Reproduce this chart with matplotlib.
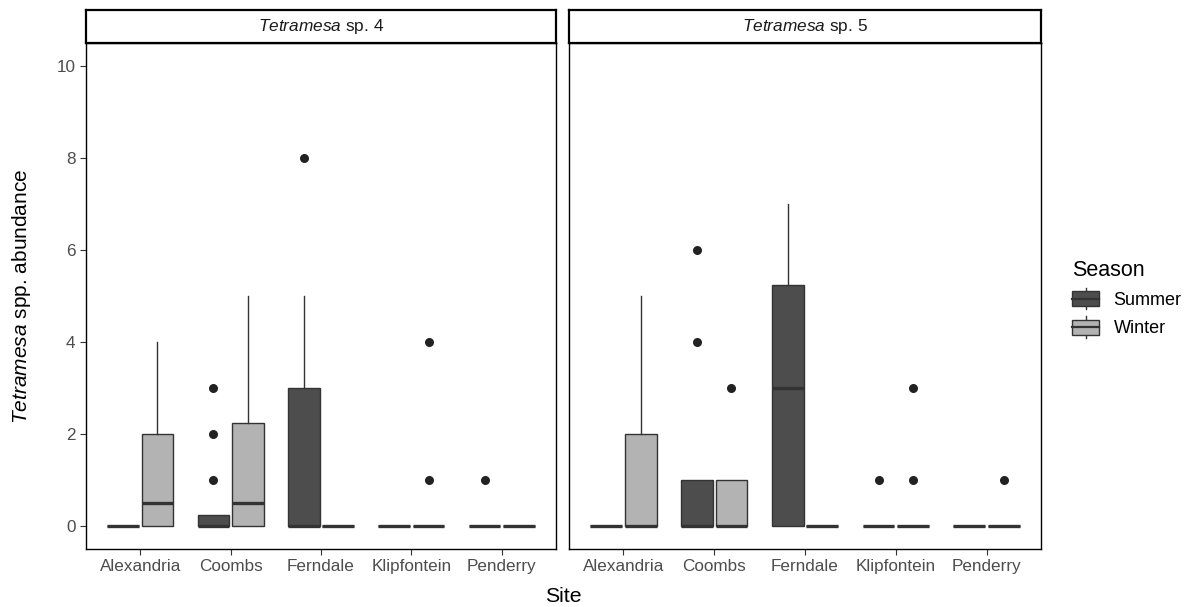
import matplotlib
matplotlib.use("Agg")
import matplotlib.pyplot as plt
from matplotlib.patches import Patch, Rectangle
from matplotlib.lines import Line2D
from matplotlib.legend_handler import HandlerBase

plt.rcParams['font.family'] = ['Liberation Sans', 'DejaVu Sans']
plt.rcParams['mathtext.fontset'] = 'custom'
plt.rcParams['mathtext.rm'] = 'Liberation Sans'
plt.rcParams['mathtext.it'] = 'Liberation Sans:italic'

sites = ['Alexandria', 'Coombs', 'Ferndale', 'Klipfontein', 'Penderry']
seasons = ['Summer', 'Winter']
species = ['Tetramesa sp. 4', 'Tetramesa sp. 5']

# boxplot summaries, one value per site
sp4_summer_q1 = [0, 0, 0, 0, 0]
sp4_summer_med = [0, 0, 0, 0, 0]
sp4_summer_q3 = [0, 0.25, 3, 0, 0]
sp4_summer_whishi = [0, 0.25, 5, 0, 0]
sp4_summer_fliers = [[], [1, 2, 3], [8], [], [1]]

sp4_winter_q1 = [0, 0, 0, 0, 0]
sp4_winter_med = [0.5, 0.5, 0, 0, 0]
sp4_winter_q3 = [2, 2.25, 0, 0, 0]
sp4_winter_whishi = [4, 5, 0, 0, 0]
sp4_winter_fliers = [[], [], [], [1, 4], []]

sp5_summer_q1 = [0, 0, 0, 0, 0]
sp5_summer_med = [0, 0, 3, 0, 0]
sp5_summer_q3 = [0, 1, 5.25, 0, 0]
sp5_summer_whishi = [0, 1, 7, 0, 0]
sp5_summer_fliers = [[], [4, 6], [], [1], []]

sp5_winter_q1 = [0, 0, 0, 0, 0]
sp5_winter_med = [0, 0, 0, 0, 0]
sp5_winter_q3 = [2, 1, 0, 0, 0]
sp5_winter_whishi = [5, 1, 0, 0, 0]
sp5_winter_fliers = [[], [3], [], [1, 3], [1]]

season_colors = {'Summer': '#4d4d4d', 'Winter': '#b3b3b3'}
line_col = '#333333'


def make_stats(q1, med, q3, whishi, fliers):
    out = []
    for i in range(len(q1)):
        out.append(dict(q1=q1[i], med=med[i], q3=q3[i], whislo=q1[i],
                        whishi=whishi[i], fliers=fliers[i]))
    return out


panels = [
    {'Summer': make_stats(sp4_summer_q1, sp4_summer_med, sp4_summer_q3, sp4_summer_whishi, sp4_summer_fliers),
     'Winter': make_stats(sp4_winter_q1, sp4_winter_med, sp4_winter_q3, sp4_winter_whishi, sp4_winter_fliers)},
    {'Summer': make_stats(sp5_summer_q1, sp5_summer_med, sp5_summer_q3, sp5_summer_whishi, sp5_summer_fliers),
     'Winter': make_stats(sp5_winter_q1, sp5_winter_med, sp5_winter_q3, sp5_winter_whishi, sp5_winter_fliers)},
]

W, H = 1188, 607
fig = plt.figure(figsize=(W / 100, H / 100), dpi=100)

panel_px = [(86, 556), (569, 1041)]
top_px, bot_px, strip_top = 43, 549, 10
offsets = {'Summer': -0.19, 'Winter': 0.19}

for k, (x0, x1) in enumerate(panel_px):
    ax = fig.add_axes([x0 / W, (H - bot_px) / H, (x1 - x0) / W, (bot_px - top_px) / H])
    for s in seasons:
        pos = [i + 1 + offsets[s] for i in range(len(sites))]
        ax.bxp(panels[k][s], positions=pos, widths=0.35, patch_artist=True,
               showcaps=False, manage_ticks=False,
               boxprops=dict(facecolor=season_colors[s], edgecolor=line_col, linewidth=1),
               medianprops=dict(color=line_col, linewidth=2.4, solid_capstyle='butt'),
               whiskerprops=dict(color=line_col, linewidth=1),
               flierprops=dict(marker='o', markerfacecolor='#222222',
                               markeredgecolor='none', markersize=6.5))
    ax.set_xlim(0.4, 5.6)
    ax.set_ylim(-0.5, 10.5)
    ax.set_xticks(range(1, len(sites) + 1))
    ax.set_xticklabels(sites)
    ax.set_yticks([0, 2, 4, 6, 8, 10])
    ax.tick_params(length=4, color=line_col, labelcolor='#4d4d4d', labelsize=12.3, width=0.8)
    if k > 0:
        ax.tick_params(axis='y', left=False, labelleft=False)
    for sp in ax.spines.values():
        sp.set_color('black')
        sp.set_linewidth(1)

    # facet strip
    sax = fig.add_axes([x0 / W, (H - top_px) / H, (x1 - x0) / W, (top_px - strip_top) / H])
    sax.set_xticks([])
    sax.set_yticks([])
    for sp in sax.spines.values():
        sp.set_linewidth(1.6)
        sp.set_color('black')
    genus, rest = species[k].split(' ', 1)
    sax.text(0.5, 0.5, r'$\it{' + genus + '}$ ' + rest, ha='center', va='center',
             fontsize=12.4, color='#1a1a1a', transform=sax.transAxes)

fig.text((panel_px[0][0] + panel_px[1][1]) / 2 / W, 1 - 597 / H, 'Site',
         ha='center', va='center', fontsize=15.3)
fig.text(22 / W, 1 - 296 / H, r'$\it{Tetramesa}$ spp. abundance', rotation=90,
         ha='center', va='center', fontsize=15)


class BoxKey(HandlerBase):
    def create_artists(self, legend, orig_handle, xdescent, ydescent,
                       width, height, fontsize, trans):
        x0, y0 = -xdescent, -ydescent
        fc = orig_handle.get_facecolor()
        lo, hi = y0 + height * 0.15, y0 + height * 0.85
        box = Rectangle((x0, lo), width, hi - lo, facecolor=fc, edgecolor=line_col,
                        linewidth=1, transform=trans)
        med = Line2D([x0, x0 + width], [y0 + height / 2] * 2, color=line_col,
                     linewidth=1.6, transform=trans)
        w1 = Line2D([x0 + width / 2] * 2, [y0, lo], color=line_col, linewidth=1, transform=trans)
        w2 = Line2D([x0 + width / 2] * 2, [hi, y0 + height], color=line_col, linewidth=1, transform=trans)
        return [w1, w2, box, med]


handles = [Patch(facecolor=season_colors[s]) for s in seasons]
leg = fig.legend(handles, seasons, handler_map={Patch: BoxKey()},
                 loc='center left', bbox_to_anchor=(1072 / W, 1 - 299 / H),
                 frameon=False, title='Season', title_fontsize=15.5, fontsize=13,
                 handlelength=1.5, handleheight=1.45, labelspacing=0.38,
                 handletextpad=0.8, borderpad=0, borderaxespad=0, alignment='left')

fig.savefig('out.png', dpi=100)
